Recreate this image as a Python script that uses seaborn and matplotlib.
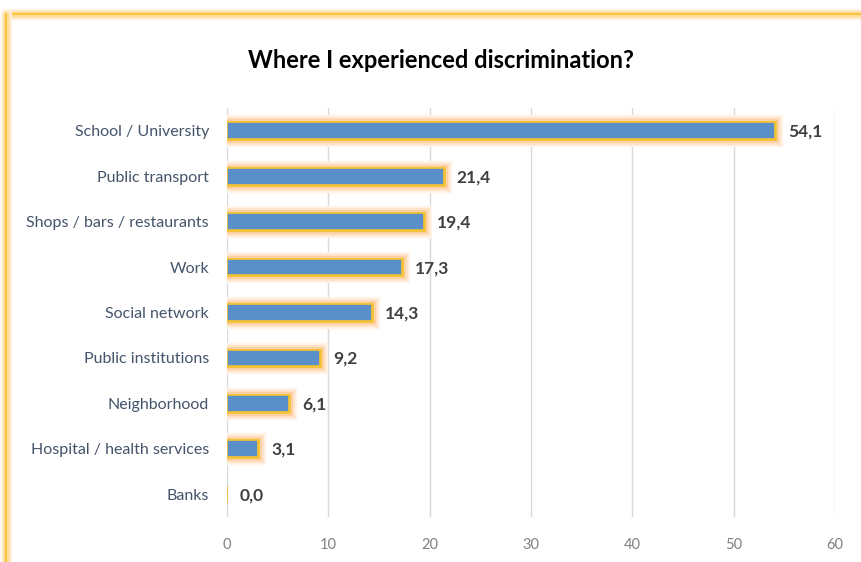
import matplotlib
matplotlib.use("Agg")
import matplotlib.pyplot as plt
import matplotlib.patheffects as pe
from matplotlib.lines import Line2D
import seaborn as sns
import pandas as pd

categories = [
    "School / University",
    "Public transport",
    "Shops / bars / restaurants",
    "Work",
    "Social network",
    "Public institutions",
    "Neighborhood",
    "Hospital / health services",
    "Banks",
]
values = [54.1, 21.4, 19.4, 17.3, 14.3, 9.2, 6.1, 3.1, 0.0]
x_ticks = [0, 10, 20, 30, 40, 50, 60]
title = "Where I experienced discrimination?"

df = pd.DataFrame({"place": categories, "pct": values})

sns.set_theme(style="white")
plt.rcParams["font.family"] = ["Lato", "DejaVu Sans"]

fig = plt.figure(figsize=(8.62, 5.62), dpi=100)
ax = fig.add_axes([0.2633, 0.0800, 0.7054, 0.7278])

sns.barplot(data=df, x="pct", y="place", orient="h", color="#5b8fc9",
            width=0.37, saturation=1, ax=ax, edgecolor="#f5c232", linewidth=1.2)

glow = [pe.Stroke(linewidth=11, foreground="#fff3e8"),
        pe.Stroke(linewidth=8, foreground="#fee3c8"),
        pe.Stroke(linewidth=5, foreground="#fcd1a6"),
        pe.Stroke(linewidth=2, foreground="#f5c232"),
        pe.Normal()]
for bar in ax.patches:
    if bar.get_width() > 0:
        bar.set_path_effects(glow)

for i, v in enumerate(values):
    ax.annotate(f"{v:.1f}".replace(".", ","), xy=(v, i), xytext=(13, -1),
                textcoords="offset pixels",
                va="center", ha="left", fontsize=12.5, fontweight="bold",
                color="#404040")

ax.set_xlim(0, 60)
ax.set_ylim(8.5, -0.5)
ax.set_xticks(x_ticks)
ax.set_xticklabels([str(t) for t in x_ticks], color="#808080", fontsize=10.5)
ax.tick_params(axis="y", labelsize=11.5, colors="#44546a", length=0, pad=13)
ax.tick_params(axis="x", length=0, pad=15)
ax.set_xlabel("")
ax.set_ylabel("")
ax.grid(axis="x", color="#d9d9d9", linewidth=1)
ax.grid(axis="y", visible=False)
ax.set_axisbelow(True)
for s in ax.spines.values():
    s.set_visible(False)

fig.text(0.511, 0.892, title, ha="center", va="center", fontsize=17,
         fontweight="bold", color="#000000")

# soft golden frame along the top and left edges
frame_fx = [pe.Stroke(linewidth=8, foreground="#fff2dc"),
            pe.Stroke(linewidth=5, foreground="#fedfa6"),
            pe.Normal()]
top = Line2D([0.007, 1.0], [0.975, 0.975], transform=fig.transFigure,
             color="#fcc43c", linewidth=1.6, path_effects=frame_fx)
left = Line2D([0.007, 0.007], [0.0, 0.975], transform=fig.transFigure,
              color="#fcc43c", linewidth=1.6, path_effects=frame_fx)
fig.add_artist(top)
fig.add_artist(left)

fig.savefig("out.png", dpi=100)
